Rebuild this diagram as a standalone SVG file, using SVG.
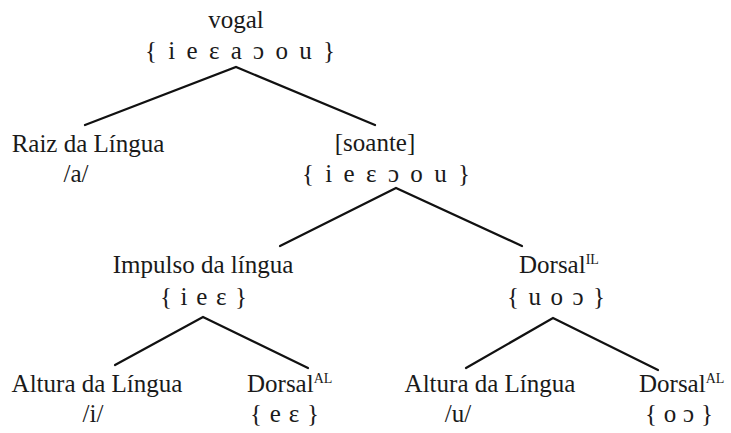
<svg xmlns="http://www.w3.org/2000/svg" width="731" height="433" viewBox="0 0 731 433">
<style>
text{font-family:"Liberation Serif","DejaVu Serif",serif;font-size:25px;fill:#1a1a1a}
.c{text-anchor:middle}
.sup{font-size:14px}
.e{stroke:#111;stroke-width:2.2;fill:none;stroke-linecap:round}
</style>
<rect width="731" height="433" fill="#fff"/>
<g id="connectors">
<path class="e" d="M85 125L236 67L375 125"/>
<path class="e" d="M280 246L396 188L522 246"/>
<path class="e" d="M115 365L203 317L308 368"/>
<path class="e" d="M466 368L553 318L658 370"/>
</g>
<g id="vogal"><text class="c" x="236" y="28">vogal</text>
<text x="145" y="59" textLength="190" lengthAdjust="spacing">{ i e ɛ a ɔ o u }</text></g>
<g id="raiz"><text class="c" x="88" y="152">Raiz da Língua</text>
<text class="c" x="76" y="182">/a/</text></g>
<g id="soante"><text class="c" x="375" y="151">[soante]</text>
<text x="302" y="182" textLength="168" lengthAdjust="spacing">{ i e ɛ ɔ o u }</text></g>
<g id="impulso"><text class="c" x="203" y="273">Impulso da língua</text>
<text x="160" y="305" textLength="87" lengthAdjust="spacing">{ i e ɛ }</text></g>
<g id="dorsalIL"><text x="519" y="273">Dorsal<tspan class="sup" dy="-9">IL</tspan></text>
<text x="507" y="305" textLength="98" lengthAdjust="spacing">{ u o ɔ }</text></g>
<g id="altura1"><text class="c" x="97" y="392">Altura da Língua</text>
<text class="c" x="93" y="422">/i/</text></g>
<g id="dorsalAL1"><text x="247" y="392">Dorsal<tspan class="sup" dy="-9">AL</tspan></text>
<text x="250" y="422" textLength="69" lengthAdjust="spacing">{ e ɛ }</text></g>
<g id="altura2"><text class="c" x="490" y="392">Altura da Língua</text>
<text class="c" x="458" y="422">/u/</text></g>
<g id="dorsalAL2"><text x="639" y="392">Dorsal<tspan class="sup" dy="-9">AL</tspan></text>
<text x="645" y="422" textLength="68" lengthAdjust="spacing">{ o ɔ }</text></g>
</svg>
